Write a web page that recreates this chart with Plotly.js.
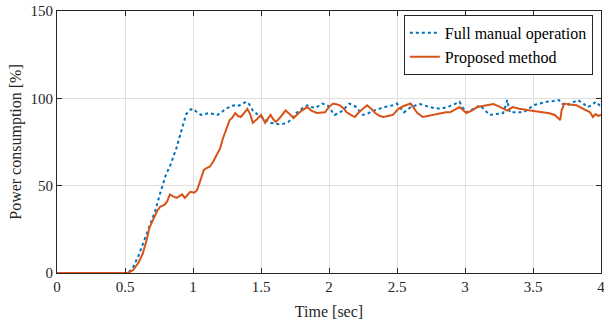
<!DOCTYPE html>
<html><head><meta charset="utf-8">
<script src="https://cdn.plot.ly/plotly-3.0.1.min.js"></script>
<style>html,body{margin:0;padding:0;background:#fff;}#chart{width:604px;height:324px;}</style>
</head><body><div id="chart"></div>
<script>
const seriesNames = ["Full manual operation", "Proposed method"];
const tManual = [
 0, 0.50, 0.53, 0.56, 0.60, 0.64, 0.68, 0.72, 0.76, 0.80,
 0.84, 0.88, 0.92, 0.95, 0.98, 1.00, 1.03, 1.06, 1.09, 1.12,
 1.15, 1.18, 1.21, 1.24, 1.27, 1.30, 1.33, 1.36, 1.39, 1.41,
 1.44, 1.47, 1.50, 1.54, 1.57, 1.61, 1.64, 1.67, 1.70, 1.73,
 1.76, 1.80, 1.84, 1.87, 1.90, 1.93, 1.95, 1.99, 2.02, 2.04,
 2.07, 2.10, 2.13, 2.15, 2.18, 2.20, 2.23, 2.25, 2.29, 2.33,
 2.37, 2.40, 2.44, 2.47, 2.50, 2.53, 2.55, 2.58, 2.60, 2.64,
 2.67, 2.72, 2.77, 2.82, 2.87, 2.92, 2.96, 2.98, 3.01, 3.05,
 3.11, 3.15, 3.18, 3.23, 3.28, 3.30, 3.31, 3.33, 3.38, 3.43,
 3.47, 3.50, 3.55, 3.60, 3.65, 3.69, 3.71, 3.75, 3.79, 3.83,
 3.87, 3.90, 3.93, 3.96, 3.99, 4.00];
const vManual = [
 0, 0, 0.5, 3.4, 10, 18, 26, 35, 46, 56,
 63, 72, 83, 91, 93.5, 94, 92, 90.5, 91, 91.6,
 91, 90.5, 92, 94, 95, 96, 95.5, 97, 98, 97,
 93, 91, 89.5, 87.5, 86, 85.5, 85, 85.5, 86.5, 88.5,
 91.6, 94, 96, 95, 94.5, 96, 97, 96, 93, 90.5,
 91.5, 93, 95.5, 97, 96, 95, 92, 90.5, 91.5, 93,
 94, 95, 95.5, 96, 97, 94, 92, 93.5, 95, 96,
 96.7, 95.5, 94.5, 94, 95, 96.5, 98, 95, 92, 93.5,
 96, 93, 90.5, 91, 91.6, 96, 99, 92, 92, 92,
 94, 96, 97, 98, 98.5, 99, 97, 96, 97.5, 99,
 97, 95, 96, 98, 96, 96];
const tProposed = [
 0, 0.52, 0.56, 0.60, 0.63, 0.66, 0.68, 0.71, 0.74, 0.76,
 0.79, 0.81, 0.83, 0.85, 0.88, 0.90, 0.92, 0.94, 0.96, 0.98,
 1.01, 1.03, 1.05, 1.08, 1.10, 1.125, 1.15, 1.18, 1.20, 1.22,
 1.25, 1.27, 1.29, 1.31, 1.33, 1.35, 1.37, 1.40, 1.42, 1.44,
 1.47, 1.50, 1.53, 1.55, 1.57, 1.59, 1.61, 1.64, 1.68, 1.71,
 1.74, 1.77, 1.80, 1.84, 1.87, 1.91, 1.94, 1.97, 2.00, 2.03,
 2.06, 2.08, 2.11, 2.13, 2.16, 2.19, 2.22, 2.25, 2.28, 2.31,
 2.34, 2.37, 2.40, 2.44, 2.47, 2.51, 2.55, 2.60, 2.63, 2.65,
 2.69, 2.73, 2.78, 2.82, 2.86, 2.89, 2.93, 2.96, 3.01, 3.05,
 3.09, 3.15, 3.21, 3.26, 3.31, 3.35, 3.40, 3.48, 3.53, 3.57,
 3.62, 3.66, 3.68, 3.70, 3.71, 3.73, 3.77, 3.82, 3.87, 3.92,
 3.94, 3.96, 3.98, 4.00];
const vProposed = [
 0, 0, 1.7, 6, 11, 19, 26, 31, 36, 38,
 39, 41, 45, 44, 43, 44, 45, 43, 45, 46.5,
 46, 47.5, 52, 59, 60, 61, 64, 69, 71.5, 77,
 83, 87.6, 89, 91.6, 90, 89.3, 91, 94, 91, 86,
 88, 90.5, 86, 88, 90.5, 88, 86.5, 89, 93, 91,
 88.7, 91, 93, 95, 93, 91.6, 92, 92, 95, 97,
 96.5, 96, 94, 92, 90.5, 89.3, 92, 94, 96, 94,
 91.6, 90, 89.3, 90, 90.5, 94, 95.6, 97, 94, 91.6,
 89.3, 90, 91, 91.6, 92, 92, 93.5, 95, 91.6, 93,
 95, 96, 96.7, 95, 93, 95, 94, 93, 92.5, 92,
 91.5, 90.5, 89, 87.6, 93, 97, 96.5, 96, 94, 92,
 89.3, 91, 90, 90.5];
const xTicks = [0, 0.5, 1, 1.5, 2, 2.5, 3, 3.5, 4];
const xTickText = ["0", "0.5", "1", "1.5", "2", "2.5", "3", "3.5", "4"];
const yTicks = [0, 50, 100, 150];
const yTickText = ["0", "50", "100", "150"];

const FAM = "Liberation Serif";
const traces = [
  {x: tManual, y: vManual, name: seriesNames[0], type: "scatter", mode: "lines",
   line: {color: "#0072BD", width: 2, dash: "dot"}},
  {x: tProposed, y: vProposed, name: seriesNames[1], type: "scatter", mode: "lines",
   line: {color: "#D95319", width: 2}}
];
function axisBase() {
  return {
    showline: true, mirror: "ticks", linecolor: "#262626", linewidth: 1,
    ticks: "inside", ticklen: 5, tickcolor: "#262626", tickwidth: 1,
    showgrid: true, gridcolor: "#dfdfdf", gridwidth: 1, zeroline: false,
    ticklabeloverflow: "allow",
    tickfont: {family: FAM, size: 15, color: "#262626"}
  };
}
const xaxis = axisBase();
xaxis.range = [0, 4]; xaxis.tickvals = xTicks; xaxis.ticktext = xTickText;
xaxis.title = {text: "Time [sec]", font: {family: FAM, size: 16, color: "#262626"}, standoff: 11};
const yaxis = axisBase();
yaxis.range = [0, 150]; yaxis.tickvals = yTicks; yaxis.ticktext = yTickText;
yaxis.title = {text: "Power consumption [%]", font: {family: FAM, size: 16, color: "#262626"}, standoff: 4};
const layout = {
  width: 604, height: 324,
  margin: {l: 57, r: 3, t: 11, b: 51},
  paper_bgcolor: "#fff", plot_bgcolor: "#fff",
  font: {family: FAM, size: 15, color: "#262626"},
  showlegend: true,
  legend: {x: 0.985, xanchor: "right", y: 0.985, yanchor: "top",
    bgcolor: "#fff", bordercolor: "#262626", borderwidth: 1,
    font: {family: FAM, size: 16, color: "#000"}, tracegroupgap: 0},
  xaxis: xaxis,
  yaxis: yaxis
};
Plotly.newPlot("chart", traces, layout, {staticPlot: true});
</script></body></html>
